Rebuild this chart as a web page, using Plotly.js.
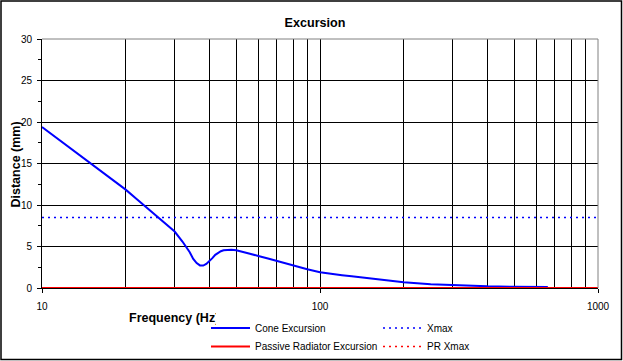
<!DOCTYPE html>
<html>
<head>
<meta charset="utf-8">
<script src="https://cdn.plot.ly/plotly-3.0.1.min.js"></script>
<style>
  html, body { margin: 0; padding: 0; background: #fff; }
  #chart { width: 623px; height: 361px; }
</style>
</head>
<body>
<div id="chart"></div>
<script>
// Frequency (Hz) and cone excursion (mm)
const coneFreq = [10, 11, 12, 13, 14, 15, 16, 18, 20, 22, 24, 26, 28, 30, 32, 33, 34, 35, 36, 37, 38, 39, 40, 41, 42, 43, 44, 45, 46, 47, 48, 50, 53, 56, 60, 65, 70, 75, 80, 85, 90, 100, 110, 120, 130, 150, 170, 200, 250, 300, 350, 400, 500, 600, 660];
const coneExc = [19.4, 18.36, 17.41, 16.54, 15.73, 14.98, 14.28, 12.99, 11.85, 10.66, 9.56, 8.5, 7.63, 6.8, 5.6, 5.0, 4.3, 3.5, 3.0, 2.72, 2.7, 2.9, 3.2, 3.6, 4.0, 4.25, 4.43, 4.55, 4.6, 4.62, 4.62, 4.55, 4.35, 4.12, 3.86, 3.55, 3.25, 2.98, 2.73, 2.45, 2.25, 1.9, 1.68, 1.55, 1.42, 1.15, 0.93, 0.69, 0.46, 0.33, 0.26, 0.2, 0.15, 0.12, 0.11];
const prFreq = [10, 1000];
const prExc = [0, 0];
const xmaxFreq = [10, 1000];
const xmaxVal = [8.5, 8.5];
const prXmaxVal = [0, 0];

const xMajorTicks = [10, 100, 1000];
const xMajorLabels = ['10', '100', '1000'];
const xMinorTicks = [20, 30, 40, 50, 60, 70, 80, 90, 200, 300, 400, 500, 600, 700, 800, 900];

const FONT = '"Liberation Sans", Arial, sans-serif';
const W = 623, H = 361;
const PL = 42, PT = 39, PW = 556, PH = 249;   // plot area in pixels
const px2x = p => (p - PL) / PW;
const py2y = p => (PT + PH - p) / PH;

const traces = [
  { x: coneFreq, y: coneExc, name: 'Cone Excursion', type: 'scatter', mode: 'lines',
    line: { color: '#0000FF', width: 2 }, legend: 'legend' },
  { x: prFreq, y: prExc, name: 'Passive Radiator Excursion', type: 'scatter', mode: 'lines',
    line: { color: '#FF0000', width: 2 }, legend: 'legend3' },
  { x: xmaxFreq, y: xmaxVal, name: 'Xmax', type: 'scatter', mode: 'lines',
    line: { color: '#0000FF', width: 1.5, dash: '2px,4px' }, legend: 'legend2' },
  { x: xmaxFreq, y: prXmaxVal, name: 'PR Xmax', type: 'scatter', mode: 'lines',
    line: { color: '#FF0000', width: 1.5, dash: '2px,4px' }, legend: 'legend4' }
];

const legendCommon = {
  orientation: 'v', xanchor: 'left', yanchor: 'top',
  bgcolor: 'rgba(0,0,0,0)', borderwidth: 0,
  font: { family: FONT, size: 10, color: '#000' },
  itemwidth: 39, traceorder: 'normal', tracegroupgap: 0
};
const row1Top = 313.5, row2Top = 332;

const layout = {
  width: W, height: H,
  margin: { l: PL, r: W - PL - PW, t: PT, b: H - PT - PH, pad: 0, autoexpand: false },
  paper_bgcolor: '#fff', plot_bgcolor: '#fff',
  font: { family: FONT, size: 10, color: '#000' },
  title: { text: '<b>Excursion</b>', font: { family: FONT, size: 12.6, color: '#000' },
           x: 315 / W, xanchor: 'center', y: 1 - 23 / H, yanchor: 'middle' },
  xaxis: {
    type: 'log', range: [1, 3],
    tickvals: xMajorTicks, ticktext: xMajorLabels,
    ticks: 'outside', ticklen: 4, tickcolor: '#000', tickwidth: 1,
    showgrid: true, gridcolor: '#000', gridwidth: 1,
    showline: true, linecolor: '#000', linewidth: 1,
    zeroline: false,
    tickfont: { family: FONT, size: 10, color: '#000' },
    ticklabelstandoff: 5,
    minor: { tickvals: xMinorTicks, showgrid: true, gridcolor: '#000', gridwidth: 1, ticks: '' }
  },
  yaxis: {
    range: [0, 30], dtick: 5, tick0: 0,
    ticks: 'outside', ticklen: 4, tickcolor: '#000', tickwidth: 1,
    showgrid: true, gridcolor: '#000', gridwidth: 1,
    showline: true, linecolor: '#000', linewidth: 1,
    zeroline: false,
    tickfont: { family: FONT, size: 10, color: '#000' },
    ticklabelstandoff: 3,
    minor: { dtick: 2.5, ticks: 'outside', ticklen: 3, tickcolor: '#000', showgrid: false }
  },
  legend: Object.assign({}, legendCommon, { x: px2x(206), y: py2y(row1Top) }),
  legend2: Object.assign({}, legendCommon, { x: px2x(378), y: py2y(row1Top) }),
  legend3: Object.assign({}, legendCommon, { x: px2x(206), y: py2y(row2Top) }),
  legend4: Object.assign({}, legendCommon, { x: px2x(378), y: py2y(row2Top) }),
  annotations: [
    { text: '<b>Frequency (Hz)</b>', xref: 'paper', yref: 'paper', showarrow: false,
      x: px2x(127), xanchor: 'left', y: py2y(318), yanchor: 'middle',
      width: 87, align: 'left',
      font: { family: FONT, size: 12.5, color: '#000' } },
    { text: '<b>Distance (mm)</b>', xref: 'paper', yref: 'paper', showarrow: false,
      x: px2x(15.5), xanchor: 'center', y: py2y(165), yanchor: 'middle',
      textangle: -90,
      font: { family: FONT, size: 12.5, color: '#000' } }
  ],
  shapes: [
    { type: 'line', xref: 'paper', yref: 'paper', x0: 0, x1: 1, y0: 1, y1: 1,
      line: { color: '#808080', width: 1 }, layer: 'above' },
    { type: 'line', xref: 'paper', yref: 'paper', x0: 1, x1: 1, y0: 0, y1: 1,
      line: { color: '#808080', width: 1 }, layer: 'above' },
    { type: 'rect', xref: 'paper', yref: 'paper',
      x0: px2x(1), x1: px2x(621.5), y0: py2y(359.5), y1: py2y(1),
      line: { color: '#000', width: 1.5 }, layer: 'above' }
  ],
  showlegend: true
};

Plotly.newPlot('chart', traces, layout, { displayModeBar: false, staticPlot: true });
</script>
</body>
</html>
